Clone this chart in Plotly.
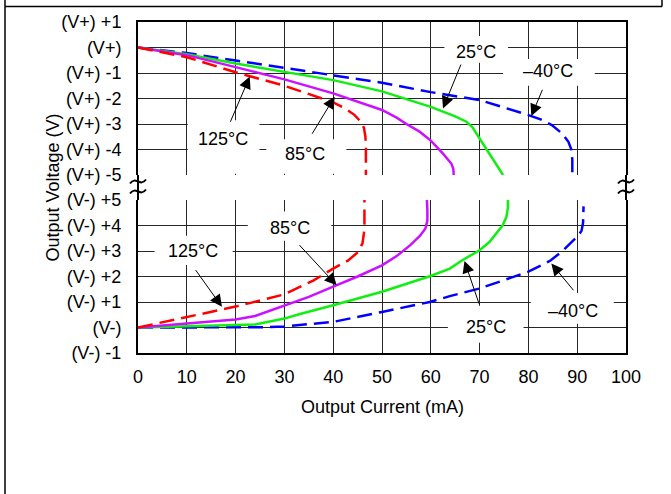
import plotly.graph_objects as go

# ---------------- data ----------------
x_tickvals = list(range(0, 101, 10))
top_tickvals = [1, 0, -1, -2, -3, -4, -5]
top_ticktext = ["(V+) +1", "(V+)", "(V+) -1", "(V+) -2", "(V+) -3", "(V+) -4", "(V+) -5"]
bot_tickvals = [5, 4, 3, 2, 1, 0, -1]
bot_ticktext = ["(V-) +5", "(V-) +4", "(V-) +3", "(V-) +2", "(V-) +1", "(V-)", "(V-) -1"]

labels = ["–40°C", "25°C", "85°C", "125°C"]

# Upper panel: output swing relative to V+ (sourcing)
src_m40_i = [0, 10, 20, 30, 40, 50, 60, 70, 80, 82.5, 84.8, 86.9, 88.2, 88.8, 89, 89]
src_m40_v = [0, -0.22, -0.51, -0.8, -1.07, -1.38, -1.75, -2.06, -2.65, -2.82, -3.04, -3.37, -3.7, -4.0, -4.4, -5]
src_25_i = [0, 10, 20, 30, 40, 50, 60, 65, 67.3, 68.5, 74.8]
src_25_v = [0, -0.26, -0.63, -0.96, -1.28, -1.72, -2.33, -2.7, -2.91, -3.12, -5]
src_85_i = [0, 10, 20, 30, 40, 50, 53, 55, 57.7, 60, 62.5, 64.2, 64.6, 64.7]
src_85_v = [0, -0.3, -0.77, -1.25, -1.8, -2.45, -2.75, -3.0, -3.3, -3.65, -4.16, -4.55, -4.75, -5]
src_125_i = [0, 10, 20, 30, 40, 42.5, 44.4, 45.6, 46.3, 46.6, 46.7, 46.7]
src_125_v = [0, -0.38, -0.97, -1.5, -2.15, -2.4, -2.65, -2.9, -3.15, -3.5, -3.9, -5]

# Lower panel: output swing relative to V- (sinking)
snk_m40_i = [0, 10, 20, 25, 30, 35, 40, 50, 59.8, 63.9, 70, 79.9, 84.4, 87, 89.1, 90.3, 90.9, 91.2, 91.3]
snk_m40_v = [0, 0, 0, 0.01, 0.04, 0.12, 0.22, 0.61, 1.0, 1.23, 1.53, 2.18, 2.61, 3.0, 3.42, 3.62, 3.8, 4.1, 4.75]
snk_25_i = [0, 10, 20, 24, 30, 33, 40, 50, 59.8, 63.9, 66.2, 70, 72, 73.4, 74.7, 75.5, 75.8, 75.8]
snk_25_v = [0, 0.05, 0.08, 0.12, 0.35, 0.52, 0.87, 1.4, 2.01, 2.31, 2.61, 3.03, 3.35, 3.69, 4.0, 4.34, 4.7, 5]
snk_85_i = [0, 10, 20, 24, 30, 35, 40, 45, 50, 53, 55.8, 57.8, 58.9, 59.3, 59.3, 59.2]
snk_85_v = [0, 0.16, 0.31, 0.45, 0.85, 1.2, 1.6, 2.0, 2.44, 2.8, 3.23, 3.6, 3.88, 4.2, 4.6, 5]
snk_125_i = [0, 10, 20, 30, 36, 40, 43, 45.1, 46.0, 46.3, 46.4, 46.4]
snk_125_v = [0, 0.4, 0.82, 1.3, 1.85, 2.31, 2.62, 2.96, 3.3, 3.7, 4.08, 5]

# ---------------- styles ----------------
FONT = "Liberation Sans, Arial, sans-serif"
C_BLUE, C_GREEN, C_PURPLE, C_RED = "#0000FF", "#11EE11", "#CC11FF", "#FF0000"
DASH = "15px,7px"
LW = 2.5

fig = go.Figure()

def add(xs, ys, color, dash, xa, ya, name):
    fig.add_trace(go.Scatter(x=xs, y=ys, mode="lines", name=name, xaxis=xa, yaxis=ya,
                             line=dict(color=color, width=LW, dash=dash), showlegend=False,
                             hoverinfo="skip"))

add(src_m40_i, src_m40_v, C_BLUE, DASH, "x2", "y2", labels[0])
add(src_25_i, src_25_v, C_GREEN, "solid", "x2", "y2", labels[1])
add(src_85_i, src_85_v, C_PURPLE, "solid", "x2", "y2", labels[2])
add(src_125_i, src_125_v, C_RED, DASH, "x2", "y2", labels[3])
add(snk_m40_i, snk_m40_v, C_BLUE, DASH, "x", "y", labels[0])
add(snk_25_i, snk_25_v, C_GREEN, "solid", "x", "y", labels[1])
add(snk_85_i, snk_85_v, C_PURPLE, "solid", "x", "y", labels[2])
add(snk_125_i, snk_125_v, C_RED, DASH, "x", "y", labels[3])

# plot area geometry (pixels)
L, R, T, B = 138, 626, 22, 353
W, H = R - L, B - T
TOP_LOW = (B - 175) / H
BOT_HIGH = (B - 200) / H

def pp(px, py):
    return (px - L) / W, (B - py) / H

GRID = "#262626"
axis_common = dict(showgrid=True, gridcolor=GRID, gridwidth=1, zeroline=False,
                   showline=True, linecolor="black", linewidth=2, ticks="",
                   tickfont=dict(family=FONT, size=18, color="black"))

fig.update_layout(
    width=671, height=494,
    margin=dict(l=L, r=671 - R, t=T, b=494 - B),
    paper_bgcolor="white", plot_bgcolor="white",
    font=dict(family=FONT, size=18, color="black"),
    xaxis=dict(domain=[0, 1], anchor="y", range=[0, 100], tickvals=x_tickvals,
               ticklabelstandoff=6, **axis_common),
    xaxis2=dict(domain=[0, 1], anchor="y2", range=[0, 100], tickvals=x_tickvals, matches="x",
                showticklabels=False, side="top", **axis_common),
    yaxis=dict(domain=[0, BOT_HIGH], anchor="x", range=[-1, 5], tickvals=bot_tickvals,
               ticktext=bot_ticktext, mirror=True, ticklabelstandoff=11, **axis_common),
    yaxis2=dict(domain=[TOP_LOW, 1], anchor="x2", range=[-5, 1], tickvals=top_tickvals,
                ticktext=top_ticktext, mirror=True, ticklabelstandoff=11, **axis_common),
)

shapes = []
# white boxes behind the temperature labels (hide gridlines)
for xr, yr, x0, x1, y0, y1 in [
    ("x2", "y2", 62.8, 75.8, 0.45, -0.6),
    ("x2", "y2", 74.8, 93.6, -0.45, -1.5),
    ("x2", "y2", 10.2, 24.9, -2.85, -4.95),
    ("x2", "y2", 26.3, 42.7, -3.6, -4.95),
    ("x", "y", 3.4, 19.4, 2.45, 3.6),
    ("x", "y", 22.5, 39.6, 3.4, 4.55),
    ("x", "y", 63.5, 79.0, -0.6, 0.85),
    ("x", "y", 80.5, 97.5, 0.15, 1.35),
]:
    shapes.append(dict(type="rect", xref=xr, yref=yr, x0=x0, x1=x1, y0=y0, y1=y1,
                       fillcolor="white", line=dict(width=0), layer="between"))

# axis break: continuing vertical lines and squiggles
for px in (L, R):
    xa, ya0 = pp(px, 175)
    _, ya1 = pp(px, 200)
    shapes.append(dict(type="line", xref="paper", yref="paper", x0=xa, x1=xa, y0=ya0, y1=ya1,
                       line=dict(color="black", width=2)))
    for py in (181.5, 191.5):
        p0 = pp(px - 8, py + 2)
        c1 = pp(px - 2, py - 6)
        c2 = pp(px + 2, py + 6)
        p1 = pp(px + 8, py - 2)
        path = f"M{p0[0]},{p0[1]} C{c1[0]},{c1[1]} {c2[0]},{c2[1]} {p1[0]},{p1[1]}"
        shapes.append(dict(type="path", xref="paper", yref="paper", path=path,
                           line=dict(color="black", width=2)))

# page frame lines
fx0, fy0 = pp(5, 6.5)
fx1, _ = pp(662, 6.5)
_, fyb = pp(5, 494)
_, fyt = pp(5, 0)
shapes.append(dict(type="line", xref="paper", yref="paper", x0=fx0, x1=fx1, y0=fy0, y1=fy0,
                   line=dict(color="black", width=1.5)))
shapes.append(dict(type="line", xref="paper", yref="paper", x0=fx0, x1=fx0, y0=fyt, y1=fyb,
                   line=dict(color="black", width=1.5)))
shapes.append(dict(type="line", xref="paper", yref="paper", x0=fx1, x1=fx1, y0=fyt, y1=fy0,
                   line=dict(color="black", width=1.5)))
fig.update_layout(shapes=shapes)

ann = []
# labels
for xr, yr, x, y, t in [
    ("x2", "y2", 69.3, -0.16, labels[1]),
    ("x2", "y2", 84.0, -0.92, labels[0]),
    ("x2", "y2", 17.4, -3.57, labels[3]),
    ("x2", "y2", 34.2, -4.16, labels[2]),
    ("x", "y", 11.3, 3.0, labels[3]),
    ("x", "y", 31.1, 3.9, labels[2]),
    ("x", "y", 71.4, 0.02, labels[1]),
    ("x", "y", 89.1, 0.65, labels[0]),
]:
    ann.append(dict(xref=xr, yref=yr, x=x, y=y, text=t, showarrow=False,
                    font=dict(family=FONT, size=18, color="black"),
                    xanchor="center", yanchor="middle"))
# arrows (tail -> tip)
for xr, yr, tx, ty, hx, hy in [
    ("x2", "y2", 18.8, -2.97, 22.9, -1.14),
    ("x2", "y2", 35.5, -3.44, 40.3, -1.93),
    ("x2", "y2", 66.3, -0.61, 62.5, -2.39),
    ("x2", "y2", 83.0, -1.6, 80.6, -2.69),
    ("x", "y", 11.6, 2.31, 17.2, 0.81),
    ("x", "y", 32.8, 3.29, 40.7, 1.66),
    ("x", "y", 70.0, 0.87, 66.9, 2.61),
    ("x", "y", 89.5, 1.4, 84.7, 2.51),
]:
    ann.append(dict(xref=xr, yref=yr, x=hx, y=hy, ax=tx, ay=ty, axref=xr, ayref=yr,
                    text="", showarrow=True, arrowhead=2, arrowsize=2.4, arrowwidth=1,
                    arrowcolor="black", standoff=0, startstandoff=0))
# axis titles
yx, yy = pp(52, 187.5)
ann.append(dict(xref="paper", yref="paper", x=yx, y=yy, text="Output Voltage (V)",
                textangle=-90, showarrow=False, xanchor="center", yanchor="middle",
                font=dict(family=FONT, size=18, color="black")))
tx_, ty_ = pp(382, 407)
ann.append(dict(xref="paper", yref="paper", x=tx_, y=ty_, text="Output Current (mA)",
                showarrow=False, xanchor="center", yanchor="middle",
                font=dict(family=FONT, size=18, color="black")))
fig.update_layout(annotations=ann)

fig.write_html(
    "out.html",
    config={"displayModeBar": False},
    post_script="document.body.style.margin='0';document.body.style.overflow='hidden';",
)
